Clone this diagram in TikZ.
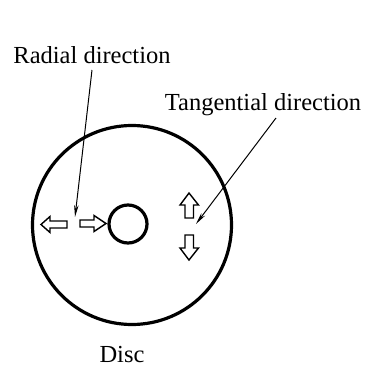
\documentclass[tikz,border=0pt]{standalone}
\usepackage{fontspec}
\setmainfont{Liberation Serif}
\usetikzlibrary{arrows.meta}
\begin{document}
\begin{tikzpicture}[x=1pt,y=-1pt,
  lbl/.style={font=\fontsize{24.5}{27}\selectfont, anchor=base, inner sep=0pt},
  leader/.style={line width=1pt, -{Stealth[length=12pt,width=4.5pt]}},
  blockarrow/.style={draw, line width=1.4pt, line join=miter, fill=white}]
\useasboundingbox (0,0) rectangle (366,368);
% labels
\node[lbl] (radial) at (92,63) {Radial direction};
\node[lbl] (tang) at (263,110) {Tangential direction};
\node[lbl] (disc) at (122,362) {Disc};
% disc
\node[draw, circle, line width=3.2pt, minimum size=199pt, inner sep=0pt] (outer) at (132,225) {};
\node[draw, circle, line width=3.2pt, minimum size=38pt, inner sep=0pt] (hub) at (128,224) {};
% block arrows (outline)
% left-pointing
\draw[blockarrow] (41,224.5) -- (50,216.5) -- (50,221) -- (67,221) -- (67,228) -- (50,228) -- (50,232.5) -- cycle;
% right-pointing
\draw[blockarrow] (106,223.5) -- (94,215.5) -- (94,220) -- (80,220) -- (80,227) -- (94,227) -- (94,231.5) -- cycle;
% up-pointing
\draw[blockarrow] (189,193) -- (180,205) -- (185,205) -- (185,218) -- (193.5,218) -- (193.5,205) -- (198.5,205) -- cycle;
% down-pointing
\draw[blockarrow] (189,260) -- (180,248) -- (185,248) -- (185,235) -- (193.5,235) -- (193.5,248) -- (198.5,248) -- cycle;
% leaders
\coordinate (rs) at (92,70);
\coordinate (re) at (75,217);
\coordinate (ts) at (276,118);
\coordinate (te) at (196,224);
\draw[leader] (rs) -- (re);
\draw[leader] (ts) -- (te);
\end{tikzpicture}
\end{document}
